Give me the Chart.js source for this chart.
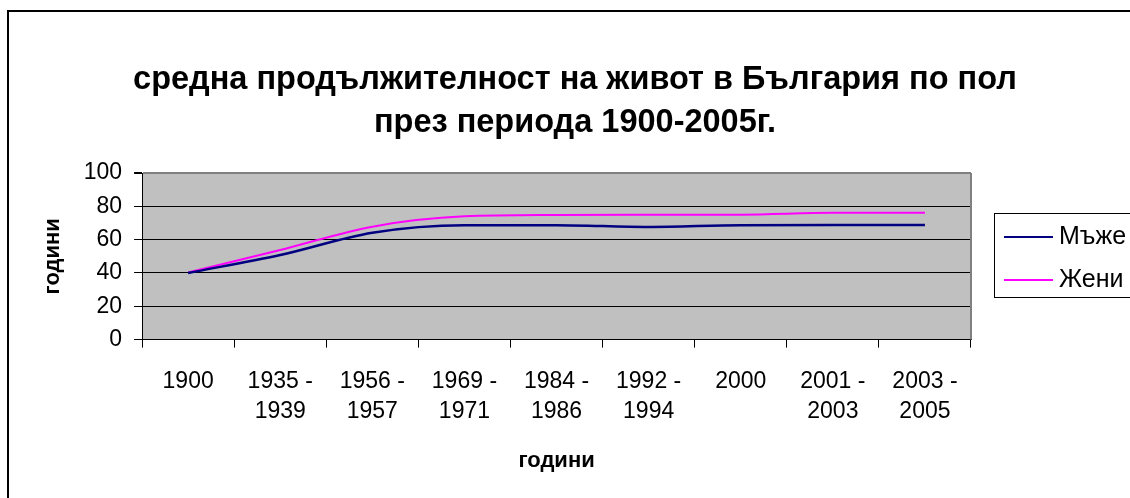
<!DOCTYPE html>
<html>
<head>
<meta charset="utf-8">
<script src="https://cdn.jsdelivr.net/npm/chart.js@4.4.0/dist/chart.umd.min.js"></script>
<style>
  html, body { margin: 0; padding: 0; background: #fff; }
  #wrap { width: 1130px; height: 498px; }
</style>
</head>
<body>
<div id="wrap"><canvas id="chart" width="1130" height="498"></canvas></div>
<script>
// данни
const categories = [
  "1900", ["1935 -", "1939"], ["1956 -", "1957"], ["1969 -", "1971"],
  ["1984 -", "1986"], ["1992 -", "1994"], "2000", ["2001 -", "2003"], ["2003 -", "2005"]
];
const menValues = [40.0, 50.8, 64.2, 68.7, 68.7, 67.6, 68.7, 68.8, 68.8];
const womenValues = [40.3, 53.8, 67.8, 74.0, 74.8, 74.9, 75.0, 76.1, 76.2];
const seriesNames = ["Мъже", "Жени"];
const yTicks = [0, 20, 40, 60, 80, 100];
const titleLines = ["средна продължителност на живот в България по пол", "през периода 1900-2005г."];

Chart.defaults.font.family = '"Liberation Sans", Arial, sans-serif';
Chart.defaults.color = "#000";

// фон, рамка, заглавие и легенда
const frame = {
  id: "frame",
  beforeDraw(chart) {
    const { ctx, chartArea: a } = chart;
    ctx.save();
    ctx.fillStyle = "#fff";
    ctx.fillRect(0, 0, chart.width, chart.height);
    ctx.strokeStyle = "#000";
    ctx.lineWidth = 2;
    ctx.strokeRect(8, 11, chart.width + 20, chart.height + 20);
    ctx.fillStyle = "#c0c0c0";
    ctx.fillRect(a.left, a.top, a.right - a.left, a.bottom - a.top);

    // заглавие
    ctx.fillStyle = "#000";
    ctx.font = 'bold 32.5px "Liberation Sans", Arial, sans-serif';
    ctx.textAlign = "center";
    ctx.textBaseline = "middle";
    titleLines.forEach((t, i) => ctx.fillText(t, 575, 80 + i * 43));
    ctx.restore();
  },
  afterDraw(chart) {
    const { ctx, chartArea: a } = chart;
    ctx.save();
    ctx.strokeStyle = "#808080";
    ctx.lineWidth = 2;
    ctx.beginPath();
    ctx.moveTo(a.right, a.top);
    ctx.lineTo(a.right, a.bottom);
    ctx.stroke();

    // легенда
    ctx.strokeStyle = "#000";
    ctx.lineWidth = 1;
    ctx.strokeRect(994.5, 213.5, 160, 84);
    ctx.font = '25px "Liberation Sans", Arial, sans-serif';
    ctx.textBaseline = "middle";
    ctx.fillStyle = "#000";
    chart.data.datasets.forEach((ds, i) => {
      const y = 237 + i * 43;
      ctx.strokeStyle = ds.borderColor;
      ctx.lineWidth = 2;
      ctx.beginPath();
      ctx.moveTo(1004, y);
      ctx.lineTo(1053, y);
      ctx.stroke();
      ctx.fillText(ds.label, 1059, y);
    });
    ctx.restore();
  }
};

new Chart(document.getElementById("chart"), {
  type: "line",
  data: {
    labels: categories,
    datasets: [
      {
        label: seriesNames[0],
        data: menValues,
        borderColor: "#000080",
        borderWidth: 2.5,
        pointRadius: 0,
        cubicInterpolationMode: "monotone"
      },
      {
        label: seriesNames[1],
        data: womenValues,
        borderColor: "#ff00ff",
        borderWidth: 2,
        pointRadius: 0,
        cubicInterpolationMode: "monotone"
      }
    ]
  },
  options: {
    responsive: false,
    animation: false,
    devicePixelRatio: 1,
    layout: { padding: { left: 40, right: 159, top: 173, bottom: 24 } },
    plugins: {
      legend: { display: false },
      tooltip: { enabled: false },
      title: { display: false }
    },
    scales: {
      x: {
        offset: true,
        grid: { offset: true, drawOnChartArea: false, tickLength: 8, color: "#000" },
        border: { color: "#000", width: 1 },
        ticks: {
          autoSkip: false, maxRotation: 0, padding: 19, color: "#000",
          font: { size: 23, lineHeight: 1.304 }
        },
        title: {
          display: true, text: "години", color: "#000",
          font: { size: 22, weight: "bold" },
          padding: { top: 2, bottom: 0 }
        }
      },
      y: {
        min: 0,
        max: 100,
        afterBuildTicks: (s) => { s.ticks = yTicks.map((v) => ({ value: v })); },
        grid: {
          color: (c) => (c.tick && c.tick.value === 100 ? "#808080" : "#000"),
          tickColor: "#000",
          tickLength: 8,
          lineWidth: (c) => (c.tick && c.tick.value === 100 ? 2 : 1)
        },
        border: { color: "#000", width: 1 },
        ticks: { autoSkip: false, padding: 12, color: "#000", font: { size: 23 } },
        title: {
          display: true, text: "години", color: "#000",
          font: { size: 22, weight: "bold" },
          padding: { top: 0, bottom: 5.3 }
        }
      }
    }
  },
  plugins: [frame]
});
</script>
</body>
</html>
